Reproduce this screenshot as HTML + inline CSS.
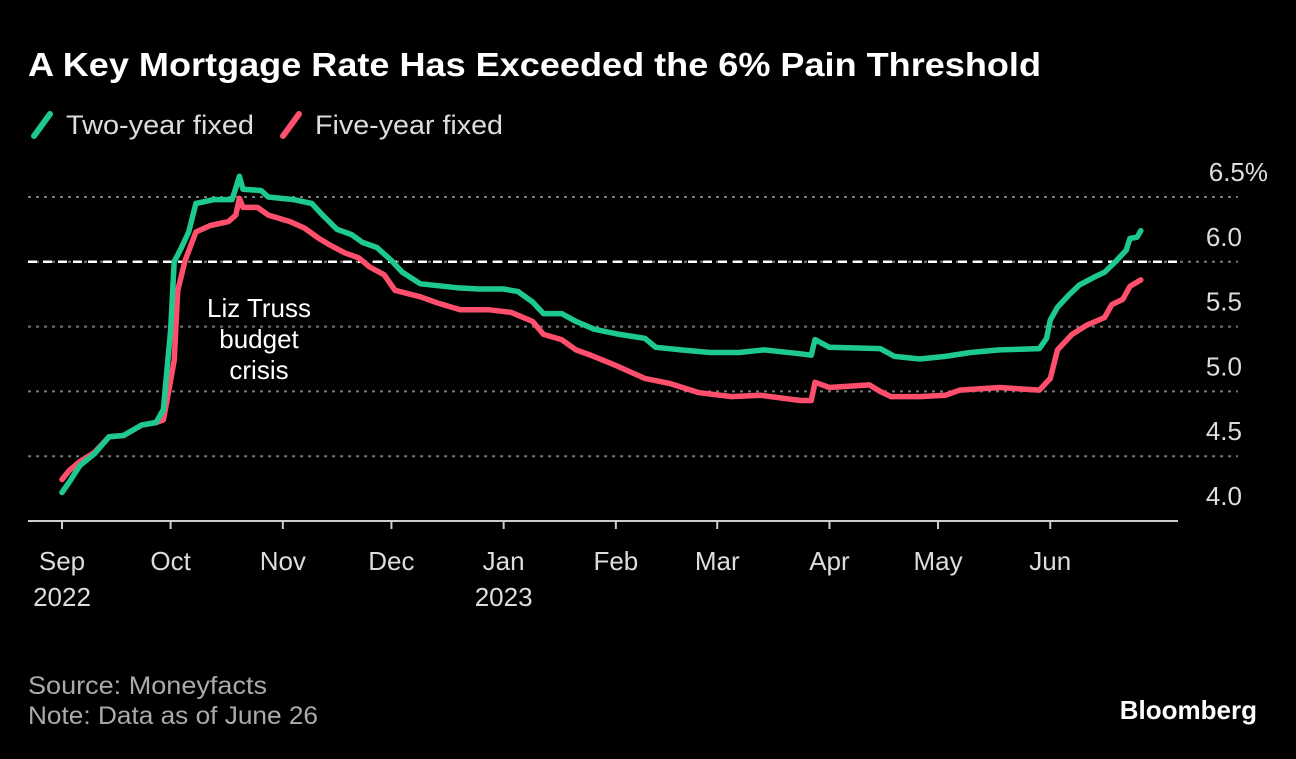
<!DOCTYPE html>
<html><head><meta charset="utf-8"><style>
body{margin:0;background:#000;width:1296px;height:754px;overflow:hidden;font-family:"Liberation Sans",sans-serif;color:#fff}
svg text{font-family:"Liberation Sans",sans-serif}
</style></head><body>
<svg id="c" width="1296" height="754">
<text x="28" y="76" font-size="33" font-weight="bold" fill="#fff" textLength="1013" lengthAdjust="spacingAndGlyphs">A Key Mortgage Rate Has Exceeded the 6% Pain Threshold</text>
<g>
<line x1="34" y1="136" x2="50" y2="114" stroke="#1dc98e" stroke-width="6" stroke-linecap="round"/>
<text x="66" y="134" font-size="27" fill="#ddd" textLength="188" lengthAdjust="spacingAndGlyphs">Two-year fixed</text>
<line x1="283" y1="136" x2="299" y2="114" stroke="#ff4f6c" stroke-width="6" stroke-linecap="round"/>
<text x="315" y="134" font-size="27" fill="#ddd" textLength="188" lengthAdjust="spacingAndGlyphs">Five-year fixed</text>
</g>
<g id="grid"></g><g id="series"></g><g id="axes"></g>
<text x="259" y="317" font-size="26" fill="#fff" text-anchor="middle">Liz Truss</text>
<text x="259" y="348" font-size="26" fill="#fff" text-anchor="middle">budget</text>
<text x="259" y="379" font-size="26" fill="#fff" text-anchor="middle">crisis</text>
<text x="28" y="694" font-size="25" fill="#aaa" textLength="239" lengthAdjust="spacingAndGlyphs">Source: Moneyfacts</text>
<text x="28" y="724" font-size="25" fill="#aaa" textLength="290" lengthAdjust="spacingAndGlyphs">Note: Data as of June 26</text>
<text x="1257" y="719" font-size="26" font-weight="bold" fill="#fff" text-anchor="end">Bloomberg</text>
</svg>
<script>
const yTicks=[4.0,4.5,5.0,5.5,6.0,6.5];
const yTickLabels=["4.0","4.5","5.0","5.5","6.0","6.5%"];
const monthDays=[0,30,61,91,122,153,181,212,242,273];
const monthLabels=["Sep","Oct","Nov","Dec","Jan","Feb","Mar","Apr","May","Jun"];
const yearLabels=["2022","","","","2023","","","","",""];
const threshold=6.0;
const twoYearDays=[0,2,5,9,13,17,22,26,28,29,30,31,33,35,37,42,47,48,49,50,55,57,64,69,72,76,80,83,87,91,94,99,109,115,122,126,130,133,138,142,147,154,161,164,171,179,187,194,204,207,208,212,226,230,237,244,251,259,270,272,273,275,278,281,285,288,291,294,295,297,298];
const twoYearVals=[4.22,4.30,4.43,4.52,4.65,4.66,4.74,4.76,4.86,5.17,5.47,6.00,6.11,6.23,6.45,6.48,6.48,6.57,6.66,6.56,6.55,6.50,6.48,6.45,6.36,6.25,6.21,6.15,6.11,6.01,5.92,5.83,5.80,5.79,5.79,5.77,5.69,5.60,5.60,5.54,5.48,5.44,5.41,5.34,5.32,5.30,5.30,5.32,5.29,5.28,5.40,5.34,5.33,5.27,5.25,5.27,5.30,5.32,5.33,5.41,5.55,5.65,5.74,5.82,5.88,5.92,6.00,6.09,6.18,6.19,6.24];
const fiveYearDays=[0,2,5,9,13,17,22,26,28,29,31,32,34,37,41,46,48,49,50,54,57,63,67,71,74,78,82,85,89,92,99,104,110,118,124,130,133,138,142,146,153,161,168,176,185,193,204,207,208,212,223,226,229,237,244,248,259,270,273,275,279,283,288,290,293,295,298];
const fiveYearVals=[4.32,4.39,4.46,4.53,4.65,4.66,4.74,4.76,4.78,4.93,5.24,5.78,6.01,6.23,6.28,6.31,6.36,6.49,6.42,6.42,6.36,6.31,6.26,6.18,6.13,6.07,6.03,5.96,5.90,5.78,5.73,5.68,5.63,5.63,5.61,5.54,5.44,5.40,5.32,5.28,5.20,5.10,5.06,4.99,4.96,4.97,4.93,4.93,5.07,5.03,5.05,5.00,4.96,4.96,4.97,5.01,5.03,5.01,5.10,5.32,5.44,5.51,5.57,5.67,5.71,5.81,5.86];

const NS="http://www.w3.org/2000/svg";
const X=d=>62+d*3.62;
const Y=v=>521-(v-4)*129.6;
function mk(tag,attrs,parent){const e=document.createElementNS(NS,tag);for(const k in attrs)e.setAttribute(k,attrs[k]);parent.appendChild(e);return e;}
const grid=document.getElementById('grid'),axes=document.getElementById('axes'),series=document.getElementById('series');
yTicks.forEach((t,i)=>{
  if(t>4){
    const l=mk('line',{x1:28,x2:1238,y1:Y(t),y2:Y(t),stroke:'#777','stroke-width':2,'stroke-dasharray':'3 5'},grid);
    
    
  }
  const tx=mk('text',{x:1242,y:Y(t)-16,'font-size':26,fill:'#ddd','text-anchor':'end'},axes);
  if(i===yTicks.length-1)tx.setAttribute('x',1268);
  tx.textContent=yTickLabels[i];
  
  
});
const th=mk('line',{x1:28,x2:1177,y1:Y(threshold),y2:Y(threshold),stroke:'#fff','stroke-width':2.5,'stroke-dasharray':'9 6'},grid);


const ax=mk('line',{x1:28,x2:1178,y1:521,y2:521,stroke:'#ccc','stroke-width':2},axes);


monthDays.forEach((d,i)=>{
  const tk=mk('line',{x1:X(d),x2:X(d),y1:521,y2:529,stroke:'#ccc','stroke-width':2},axes);
  
  
  const t=mk('text',{x:X(d),y:570,'font-size':26,fill:'#ddd','text-anchor':'middle'},axes);
  t.textContent=monthLabels[i];
  
  
  if(yearLabels[i]){
    const y=mk('text',{x:X(d),y:606,'font-size':26,fill:'#ddd','text-anchor':'middle'},axes);
    y.textContent=yearLabels[i];
    
    
  }
});
function line(days,vals,color,name){
  const p=days.map((d,i)=>X(d).toFixed(1)+','+Y(vals[i]).toFixed(1)).join(' ');
  const pl=mk('polyline',{points:p,fill:'none',stroke:color,'stroke-width':5.5,'stroke-linejoin':'round','stroke-linecap':'round'},series);
  
  
}
line(fiveYearDays,fiveYearVals,'#ff4f6c','five-year-fixed-line');
line(twoYearDays,twoYearVals,'#1dc98e','two-year-fixed-line');
</script>
</body></html>
